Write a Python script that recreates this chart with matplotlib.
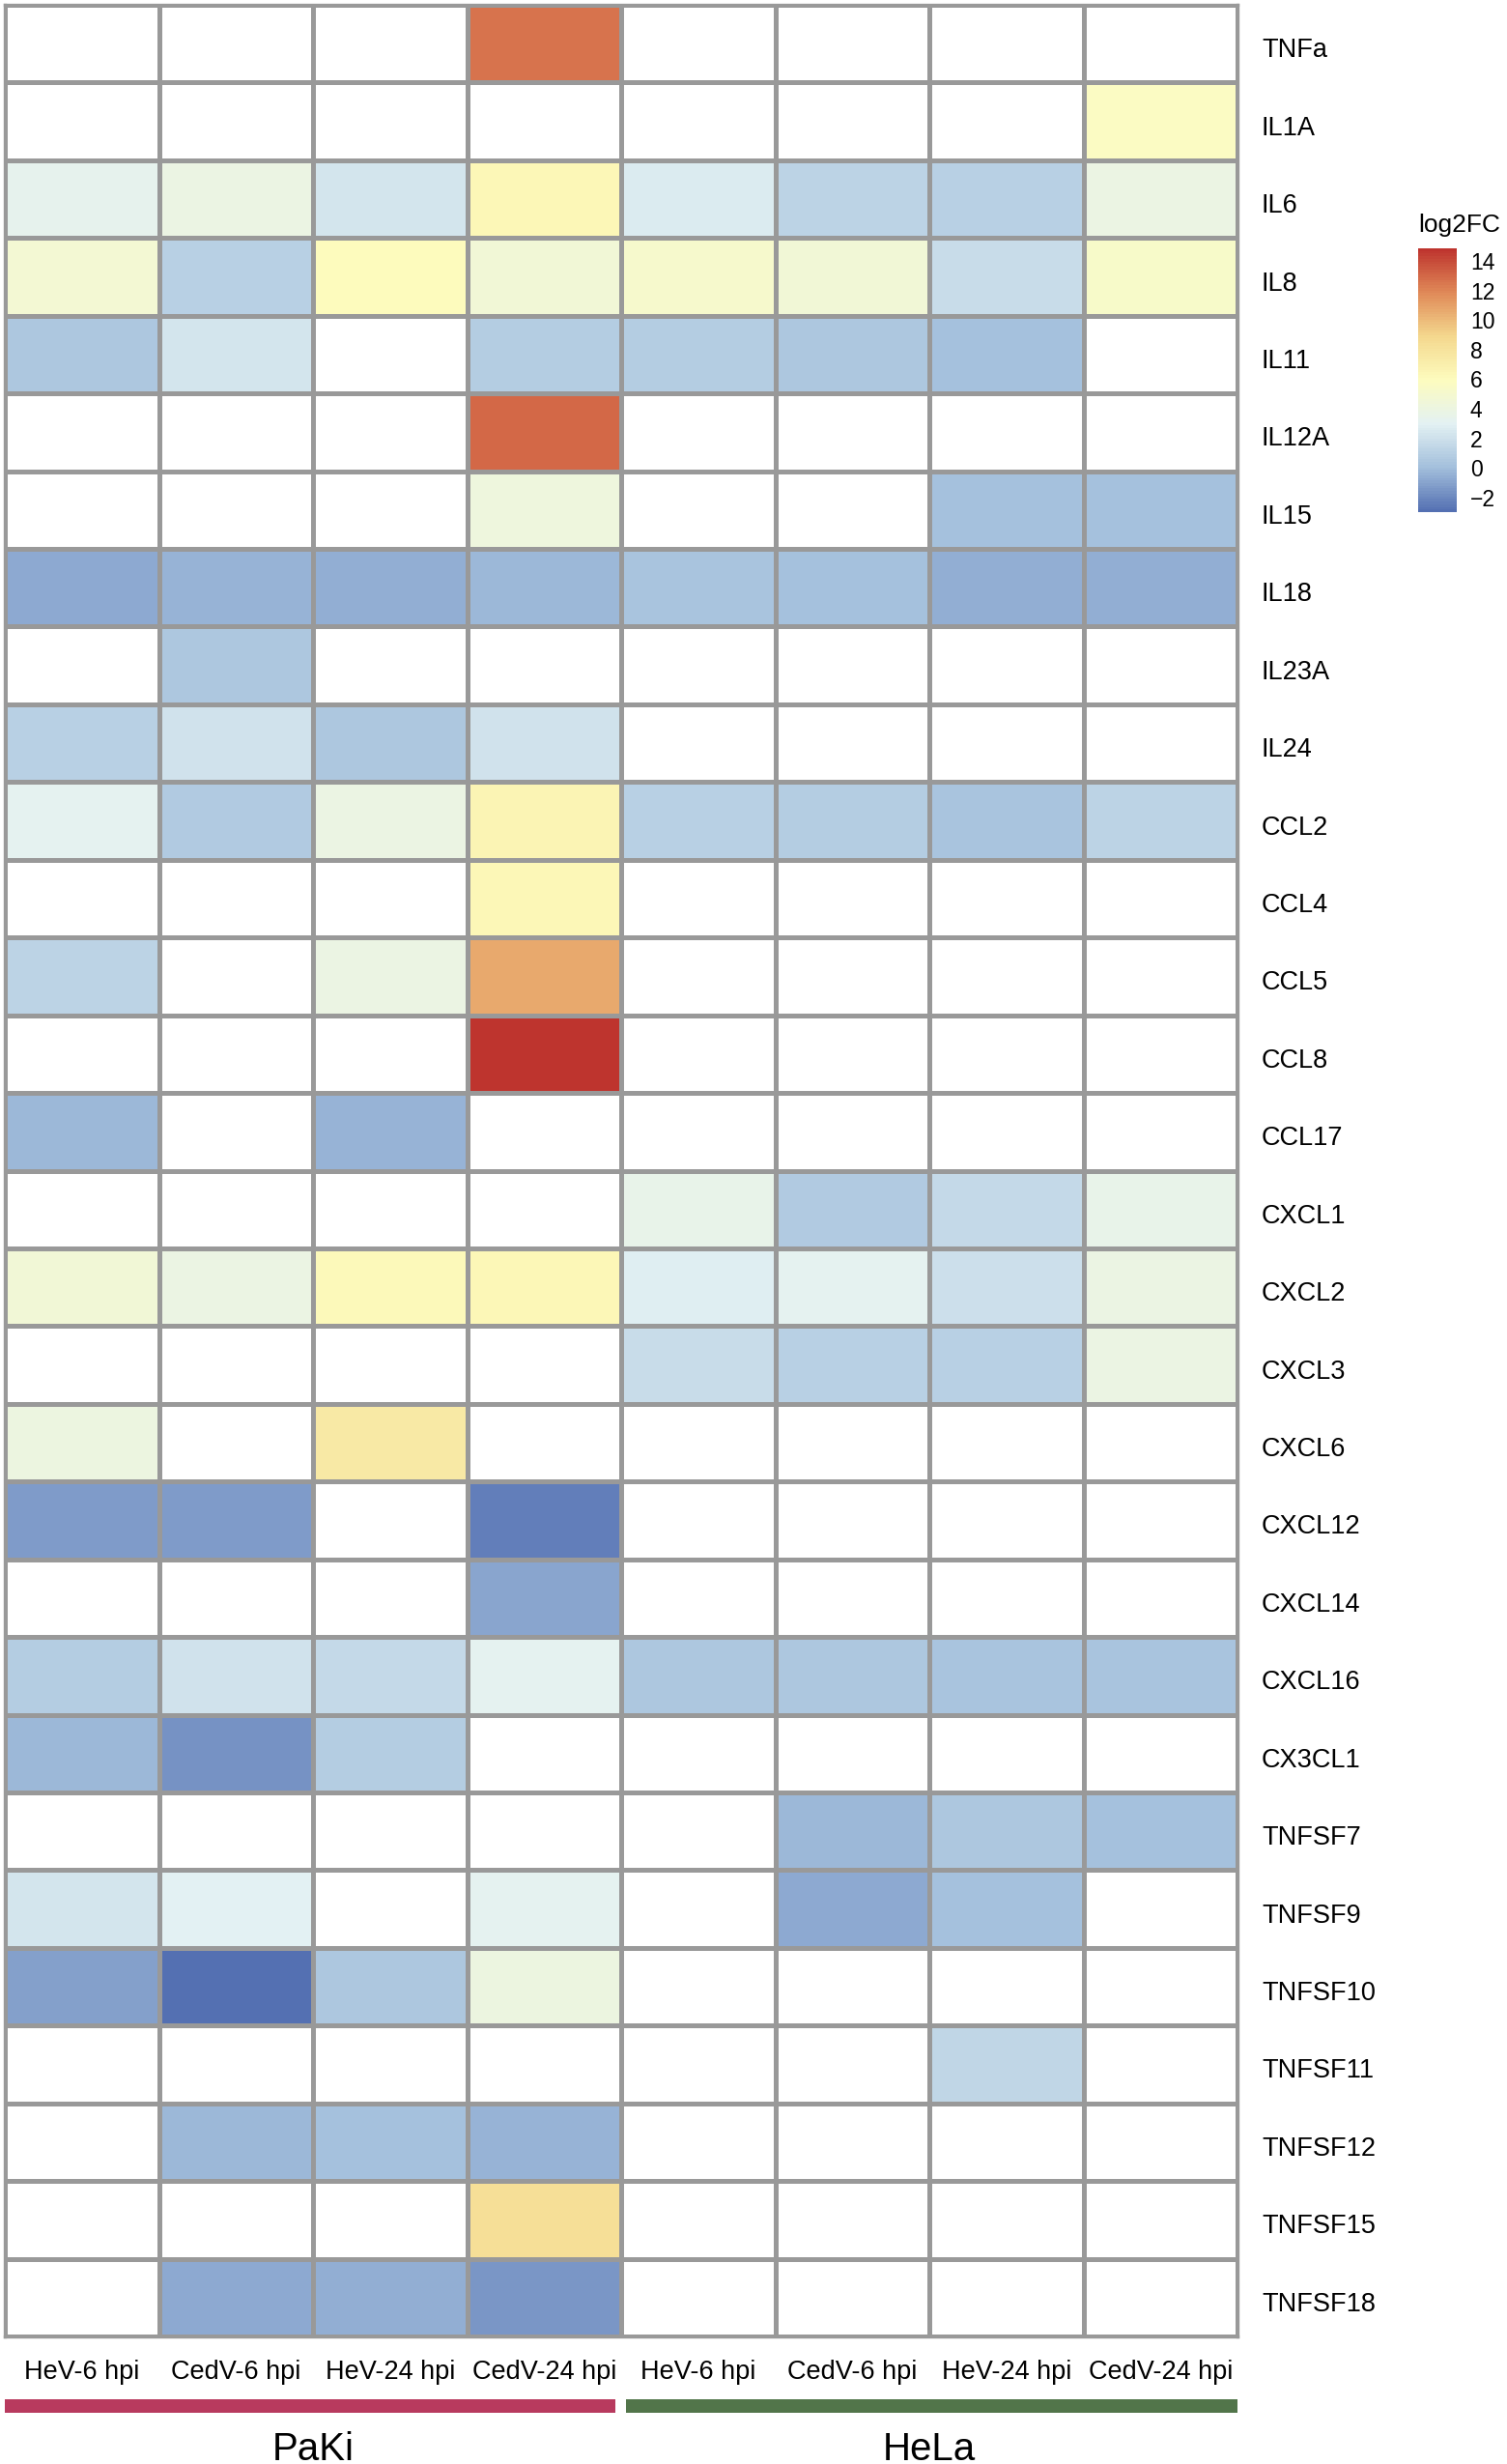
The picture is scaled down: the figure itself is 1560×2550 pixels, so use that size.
import numpy as np
import matplotlib
matplotlib.use("Agg")
import matplotlib.pyplot as plt
from matplotlib.colors import LinearSegmentedColormap
from matplotlib.transforms import ScaledTranslation

plt.rcParams["font.family"] = ["Liberation Sans", "DejaVu Sans"]

# Data: log2FC, NaN = not significant (white)
genes = ["TNFa", "IL1A", "IL6", "IL8", "IL11", "IL12A", "IL15", "IL18", "IL23A", "IL24",
         "CCL2", "CCL4", "CCL5", "CCL8", "CCL17", "CXCL1", "CXCL2", "CXCL3", "CXCL6",
         "CXCL12", "CXCL14", "CXCL16", "CX3CL1", "TNFSF7", "TNFSF9", "TNFSF10",
         "TNFSF11", "TNFSF12", "TNFSF15", "TNFSF18"]
conditions = ["HeV-6 hpi", "CedV-6 hpi", "HeV-24 hpi", "CedV-24 hpi",
              "HeV-6 hpi", "CedV-6 hpi", "HeV-24 hpi", "CedV-24 hpi"]
cell_lines = ["PaKi", "HeLa"]
cell_line_colors = ["#B83A5E", "#52754A"]
n = np.nan
log2fc = np.array([
    [n,    n,    n,    12.6, n,    n,    n,    n],    # TNFa
    [n,    n,    n,    n,    n,    n,    n,    5.6],  # IL1A
    [3.4,  3.9,  2.2,  6.3,  2.6,  1.2,  1.0,  3.9],  # IL6
    [4.7,  1.0,  6.1,  4.5,  5.2,  4.6,  1.8,  5.3],  # IL8
    [0.5,  2.2,  n,    0.9,  0.9,  0.5,  0.2,  n],    # IL11
    [n,    n,    n,    13.0, n,    n,    n,    n],    # IL12A
    [n,    n,    n,    4.3,  n,    n,    0.1,  0.2],  # IL15
    [-0.8, -0.4, -0.6, -0.3, 0.3,  0.2,  -0.6, -0.6], # IL18
    [n,    0.4,  n,    n,    n,    n,    n,    n],    # IL23A
    [1.1,  2.0,  0.5,  2.0,  n,    n,    n,    n],    # IL24
    [3.2,  0.7,  3.9,  6.5,  1.0,  0.8,  0.3,  1.2],  # CCL2
    [n,    n,    n,    6.4,  n,    n,    n,    n],    # CCL4
    [1.2,  n,    3.8,  10.6, n,    n,    n,    n],    # CCL5
    [n,    n,    n,    14.85, n,   n,    n,    n],    # CCL8
    [-0.2, n,    -0.5, n,    n,    n,    n,    n],    # CCL17
    [n,    n,    n,    n,    3.5,  0.7,  1.6,  3.5],  # CXCL1
    [4.5,  3.9,  6.2,  6.4,  2.8,  3.1,  1.9,  3.8],  # CXCL2
    [n,    n,    n,    n,    1.8,  1.1,  1.0,  3.9],  # CXCL3
    [4.0,  n,    7.4,  n,    n,    n,    n,    n],    # CXCL6
    [-1.3, -1.3, n,    -2.4, n,    n,    n,    n],    # CXCL12
    [n,    n,    n,    -1.0, n,    n,    n,    n],    # CXCL14
    [0.8,  2.0,  1.5,  3.1,  0.5,  0.5,  0.3,  0.3],  # CXCL16
    [-0.2, -1.7, 0.8,  n,    n,    n,    n,    n],    # CX3CL1
    [n,    n,    n,    n,    n,    -0.3, 0.4,  0.1],  # TNFSF7
    [2.2,  3.0,  n,    3.2,  n,    -0.7, 0.2,  n],    # TNFSF9
    [-1.1, -3.0, 0.5,  4.0,  n,    n,    n,    n],    # TNFSF10
    [n,    n,    n,    n,    n,    n,    1.3,  n],    # TNFSF11
    [n,    -0.3, 0.1,  -0.5, n,    n,    n,    n],    # TNFSF12
    [n,    n,    n,    8.4,  n,    n,    n,    n],    # TNFSF15
    [n,    -0.8, -0.6, -1.5, n,    n,    n,    n],    # TNFSF18
])

# reversed RdYlBu, a bit muted like the printed figure, 100 steps
pal = ["#5470B2", "#A3BFDC", "#E3F1F3", "#FDFCBE", "#F4D88E", "#E08A58", "#BE342E"]
cmap = LinearSegmentedColormap.from_list("rdylbu", pal, N=100)
cmap.set_bad("white")
vmin, vmax = np.nanmin(log2fc), np.nanmax(log2fc)

W, H = 1560, 2550
fig = plt.figure(figsize=(W / 100, H / 100), dpi=100)

# heatmap
ax = fig.add_axes([5 / W, 1 - 2418 / H, 1276 / W, 2413 / H])
mesh = ax.pcolormesh(np.ma.masked_invalid(log2fc), cmap=cmap, vmin=vmin, vmax=vmax,
                     edgecolors="#999999", linewidth=2.4)
ax.set_xlim(0, len(conditions))
ax.set_ylim(len(genes), 0)
for s in ax.spines.values():
    s.set_edgecolor("#999999")
    s.set_linewidth(2.4)
ax.set_xticks(np.arange(len(conditions)) + 0.5)
ax.set_xticklabels(conditions, fontsize=19.5)
ax.set_yticks(np.arange(len(genes)) + 0.5)
ax.set_yticklabels(genes, fontsize=19.5)
ax.yaxis.tick_right()
ax.tick_params(axis="x", length=0, pad=17)
ax.tick_params(axis="y", length=0, pad=18)
shift = ScaledTranslation(0, -4 / 100, fig.dpi_scale_trans)
for lab in ax.get_yticklabels():
    lab.set_transform(lab.get_transform() + shift)

# cell line annotation bars
ax2 = fig.add_axes([5 / W, 0, 1276 / W, 80 / H])
ax2.set_xlim(0, len(conditions))
ax2.set_ylim(0, 1)
ax2.axis("off")
half = len(conditions) // 2
for i, (name, col) in enumerate(zip(cell_lines, cell_line_colors)):
    x0 = i * half + (0.0 if i == 0 else 0.03)
    x1 = (i + 1) * half - (0.035 if i == 0 else 0.0)
    ax2.add_patch(plt.Rectangle((x0, 0.66), x1 - x0, 0.18, color=col, lw=0))
    ax2.text((i + 0.5) * half, 0.19, name, fontsize=29, ha="center", va="center")

# colour legend
cax = fig.add_axes([1468 / W, 1 - 530 / H, 40 / W, 273 / H])
cb = fig.colorbar(mesh, cax=cax, ticks=np.arange(-2, 15, 2))
cb.outline.set_visible(False)
cax.tick_params(length=0, labelsize=16.5, pad=10)
fig.text(1468 / W, 1 - 233 / H, "log2FC", fontsize=19, ha="left", va="center")

fig.savefig("out.png", dpi=100)
